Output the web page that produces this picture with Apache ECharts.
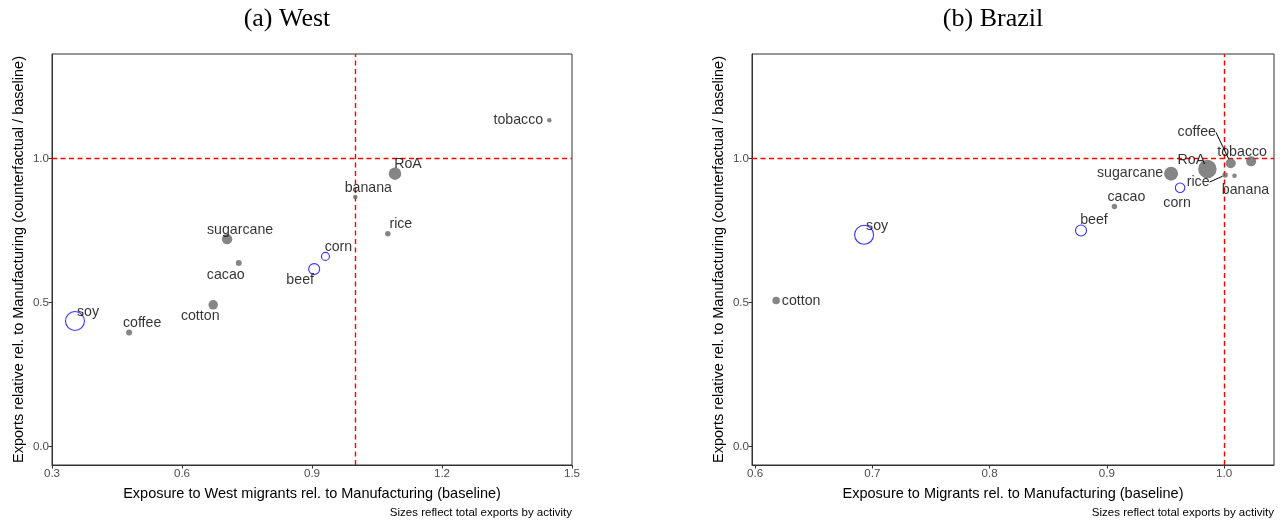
<!DOCTYPE html>
<html>
<head>
<meta charset="utf-8">
<script src="https://cdn.jsdelivr.net/npm/echarts@6/dist/echarts.min.js"></script>
<style>html,body{margin:0;padding:0;background:#fff}#c{width:1287px;height:525px}</style>
</head>
<body>
<div id="c"></div>
<script>
// ---- data ----
const products = ['tobacco','RoA','banana','rice','sugarcane','cacao','corn','beef','cotton','soy','coffee'];
const westX   = [1.4476, 1.0915, 1.000, 1.075, 0.704, 0.731, 0.931, 0.905, 0.672, 0.353, 0.478];
const westY   = [1.132, 0.947, 0.866, 0.7385, 0.720, 0.637, 0.660, 0.616, 0.492, 0.436, 0.396];
const brazilX = [1.0231, 0.9858, 1.0089, 1.0009, 0.9548, 0.9065, 0.9625, 0.878, 0.618, 0.693, 1.0057];
const brazilY = [0.9896, 0.963, 0.940, 0.942, 0.947, 0.833, 0.898, 0.750, 0.507, 0.735, 0.983];
const hollowProducts = ['corn','beef','soy'];
const xTicksWest = [0.3, 0.6, 0.9, 1.2, 1.5];
const xTicksBrazil = [0.6, 0.7, 0.8, 0.9, 1.0];
const yTicks = [0.0, 0.5, 1.0];
const refX = 1.0, refY = 1.0;
const panelTitles = ['(a) West', '(b) Brazil'];
const xNames = ['Exposure to West migrants rel. to Manufacturing (baseline)', 'Exposure to Migrants rel. to Manufacturing (baseline)'];
const yName = 'Exports relative rel. to Manufacturing (counterfactual / baseline)';
const caption = 'Sizes reflect total exports by activity';

// ---- styling (marker diameters, label offsets) ----
const westMarkerPx   = [4.5, 12.5, 4.5, 5.5, 10.5, 6, 8, 11, 9.5, 19, 6];
const brazilMarkerPx = [10, 18.5, 4.5, 5.5, 14, 5.5, 9.5, 11, 7.5, 19, 10];
const westLabelOffset = [[-31,0],[13,-10],[13,-9],[13,-10],[13,-9],[-13,12],[13,-9],[-14,11],[-13,11],[13,-9],[13,-9]];
const brazilLabelOffset = [[-9,-9],[-16,-9],[11,14],[-27,7],[-41,-1],[12,-9],[-3,15],[13,-10],[25,1],[13,-9],[-34,-31]];
const brazilLeaders = ['rice','coffee'];

const GRAY = '#666666', BLUE = '#0000FF';
const FONT = '"Liberation Sans", Arial, Helvetica, sans-serif';

function buildData(xs, ys, sizes, leaders) {
  return products.map((p, i) => {
    const hollow = hollowProducts.includes(p);
    const item = {
      name: p,
      value: [xs[i], ys[i]],
      symbolSize: sizes[i],
      itemStyle: hollow
        ? { color: 'rgba(0,0,0,0)', borderColor: BLUE, borderWidth: 1.1 }
        : { color: GRAY, borderWidth: 0 }
    };
    if (leaders && leaders.includes(p)) {
      item.labelLine = { show: true, lineStyle: { color: '#000', width: 1 } };
    }
    return item;
  });
}

const offsets = [westLabelOffset, brazilLabelOffset];

function axisX(idx, min, max, ticks) {
  return {
    gridIndex: idx, type: 'value', min: min, max: max,
    name: xNames[idx], nameLocation: 'middle', nameGap: 21,
    nameTextStyle: { fontFamily: FONT, fontSize: 14.5, color: '#000' },
    axisLine: { show: true, onZero: false, lineStyle: { color: '#333', width: 1 } },
    axisTick: { show: true, length: 3.5, lineStyle: { color: '#333' }, customValues: ticks },
    axisLabel: { show: true, margin: 3, color: '#4d4d4d', fontFamily: FONT, fontSize: 11.6,
      customValues: ticks, formatter: v => v.toFixed(1) },
    splitLine: { show: false }
  };
}
function axisY(idx, gap) {
  return {
    gridIndex: idx, type: 'value', min: -0.0635, max: 1.362,
    name: yName, nameLocation: 'middle', nameGap: gap,
    nameTextStyle: { fontFamily: FONT, fontSize: 14.5, color: '#000' },
    axisLine: { show: true, onZero: false, lineStyle: { color: '#333', width: 1 } },
    axisTick: { show: true, length: 3.5, lineStyle: { color: '#333' }, customValues: yTicks },
    axisLabel: { show: true, margin: 3, color: '#4d4d4d', fontFamily: FONT, fontSize: 11.6,
      customValues: yTicks, formatter: v => v.toFixed(1) },
    splitLine: { show: false }
  };
}

function series(idx, data) {
  return {
    type: 'scatter', xAxisIndex: idx, yAxisIndex: idx,
    symbol: 'circle',
    data: data,
    z: 3,
    label: { show: true, position: 'inside', formatter: '{b}', color: '#000',
      fontFamily: FONT, fontSize: 14.2 },
    labelLine: { show: false },
    labelLayout: function (params) {
      const o = offsets[params.seriesIndex][params.dataIndex];
      return { dx: o[0], dy: o[1], hideOverlap: false };
    },
    emphasis: { disabled: true },
    markLine: {
      silent: true, symbol: ['none', 'none'], z: 2,
      label: { show: false },
      lineStyle: { color: '#FF0000', type: [5, 3.5], width: 1.4 },
      data: [{ xAxis: refX }, { yAxis: refY }]
    }
  };
}

const chart = echarts.init(document.getElementById('c'), null, { renderer: 'canvas' });
chart.setOption({
  animation: false,
  backgroundColor: '#fff',
  grid: [
    { left: 52, top: 54, width: 520, height: 411, show: true, borderColor: '#333', borderWidth: 1, backgroundColor: 'transparent' },
    { left: 752, top: 54, width: 522, height: 411, show: true, borderColor: '#333', borderWidth: 1, backgroundColor: 'transparent' }
  ],
  xAxis: [ axisX(0, 0.3, 1.5, xTicksWest), axisX(1, 0.5974, 1.0426, xTicksBrazil) ],
  yAxis: [ axisY(0, 26), axisY(1, 26) ],
  series: [
    series(0, buildData(westX, westY, westMarkerPx, null)),
    series(1, buildData(brazilX, brazilY, brazilMarkerPx, brazilLeaders))
  ],
  graphic: [
    { type: 'text', x: 287, y: 19, style: { text: panelTitles[0], font: '26px "Liberation Serif", "DejaVu Serif", serif', fill: '#000', textAlign: 'center', textVerticalAlign: 'middle' } },
    { type: 'text', x: 993, y: 19, style: { text: panelTitles[1], font: '26px "Liberation Serif", "DejaVu Serif", serif', fill: '#000', textAlign: 'center', textVerticalAlign: 'middle' } },
    { type: 'text', x: 572, y: 513, style: { text: caption, font: '11.5px ' + FONT, fill: '#000', textAlign: 'right', textVerticalAlign: 'middle' } },
    { type: 'text', x: 1274, y: 513, style: { text: caption, font: '11.5px ' + FONT, fill: '#000', textAlign: 'right', textVerticalAlign: 'middle' } }
  ]
});
</script>
</body>
</html>
